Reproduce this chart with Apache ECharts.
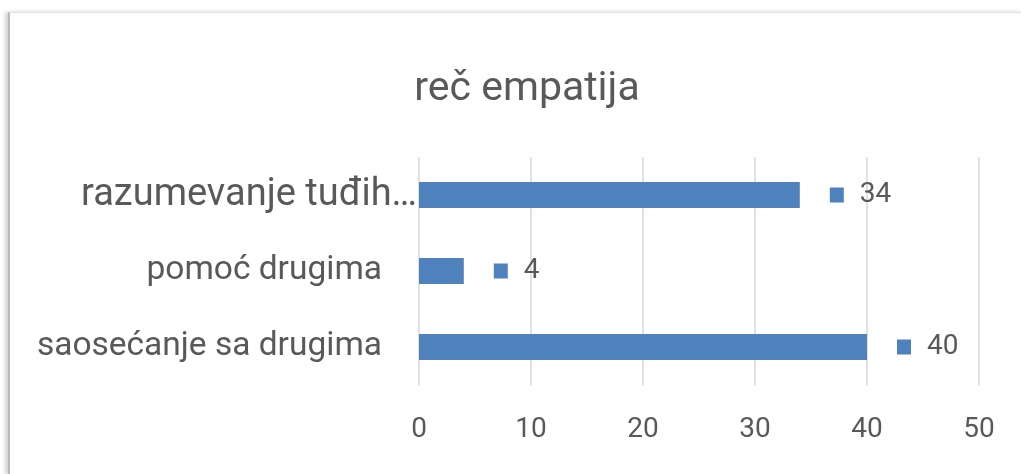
<!DOCTYPE html>
<html>
<head>
<meta charset="utf-8">
<script src="https://cdn.jsdelivr.net/npm/echarts@6.0.0/dist/echarts.min.js"></script>
<style>
  html, body { margin: 0; padding: 0; background: #ffffff; }
  #frame {
    position: absolute; left: 8px; top: 12px; width: 1013px; height: 462px;
    border-top: 1px solid #e2e2e2; border-left: 2px solid #b8b8b8;
    box-shadow: -3px 0 4px rgba(0, 0, 0, 0.18);
  }
  #root { position: absolute; left: 0; top: 0; width: 1021px; height: 474px; }
</style>
</head>
<body>
<div id="frame"></div>
<div id="root"></div>
<script>
  // chart data, bottom to top as drawn
  const categories = ["saosećanje sa drugima", "pomoć drugima", "razumevanje tuđih…"];
  const values = [40, 4, 34];
  const tickValues = [0, 10, 20, 30, 40, 50];

  const font = "Roboto, 'Open Sans', sans-serif";
  const textColor = "#595959";
  const barColor = "#4f81bd";

  const myChart = echarts.init(document.getElementById("root"), null, { renderer: "canvas" });
  const option = {
    backgroundColor: "transparent",
    animation: false,
    title: {
      text: "reč empatija",
      left: 522,
      textAlign: "center",
      top: 64,
      textStyle: { fontFamily: font, fontSize: 41, fontWeight: "normal", color: textColor }
    },
    grid: { left: 419, right: 42, top: 157, bottom: 89, containLabel: false, outerBoundsMode: "none" },
    xAxis: {
      type: "value",
      min: tickValues[0],
      max: tickValues[tickValues.length - 1],
      interval: 10,
      axisLine: { show: false },
      axisTick: { show: false },
      splitLine: { lineStyle: { color: "#d9d9d9", width: 1.5 } },
      axisLabel: { fontFamily: font, fontSize: 28, color: textColor, margin: 31 }
    },
    yAxis: {
      type: "category",
      data: categories,
      axisLine: { show: false },
      axisTick: { show: false },
      axisLabel: {
        margin: 2,
        // truncated labels run right up to the axis, like in the original
        formatter: (v) => (v.endsWith("…") ? "{t|" + v + "}" : "{n|" + v + "}"),
        rich: {
          n: { fontFamily: font, fontSize: 33.5, color: textColor, padding: [0, 35, 0, 0] },
          t: { fontFamily: font, fontSize: 38, color: textColor, padding: [0, 0, 0, 0] }
        }
      }
    },
    series: [
      {
        type: "bar",
        data: values,
        barWidth: 26,
        itemStyle: { color: barColor },
        label: {
          show: true,
          position: "right",
          distance: 30,
          formatter: "{m|}{v|{c}}",
          rich: {
            m: { width: 14, height: 15, backgroundColor: barColor },
            v: { fontFamily: font, fontSize: 28, color: textColor, padding: [0, 0, 0, 16] }
          }
        }
      }
    ]
  };
  myChart.setOption(option);
</script>
</body>
</html>
